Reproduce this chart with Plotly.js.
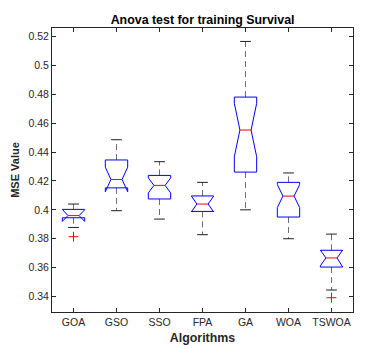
<!DOCTYPE html>
<html>
<head>
<meta charset="utf-8">
<script src="https://cdn.plot.ly/plotly-3.0.1.min.js"></script>
<style>html,body{margin:0;padding:0;background:#fff;}#chart{width:378px;height:349px;}</style>
</head>
<body>
<div id="chart"></div>
<script>
const categories = ['GOA', 'GSO', 'SSO', 'FPA', 'GA', 'WOA', 'TSWOA'];
const q1Values = [0.3945, 0.4152, 0.4075, 0.3989, 0.4261, 0.3950, 0.3604];
const medianValues = [0.3960, 0.4210, 0.4169, 0.4040, 0.4552, 0.4095, 0.3667];
const q3Values = [0.4003, 0.4345, 0.4238, 0.4096, 0.4780, 0.4190, 0.3720];
const lowerWhiskers = [0.3878, 0.3994, 0.3936, 0.3828, 0.4000, 0.3800, 0.3445];
const upperWhiskers = [0.4040, 0.4485, 0.4333, 0.4190, 0.5165, 0.4255, 0.3832];
const notchSpans = [0.0040, 0.0085, 0.0052, 0.0055, 0.0185, 0.0080, 0.0055];
const outlierCategory = ['GOA', 'TSWOA'];
const outlierValues = [0.3814, 0.3392];
const yTickValues = [0.34, 0.36, 0.38, 0.40, 0.42, 0.44, 0.46, 0.48, 0.50, 0.52];
const yTickLabels = ['0.34', '0.36', '0.38', '0.4', '0.42', '0.44', '0.46', '0.48', '0.5', '0.52'];

const pos = categories.map((c, i) => i);
const boxHalf = 0.26;
const notchHalf = 0.13;
const capHalf = 0.125;
const FONT = '"Liberation Sans", Arial, Helvetica, sans-serif';

// whiskers (vertical dashed)
const wX = [], wY = [];
pos.forEach((p, i) => {
  wX.push(p, p, null, p, p, null);
  wY.push(q3Values[i], upperWhiskers[i], null, q1Values[i], lowerWhiskers[i], null);
});
// caps
const cX = [], cY = [];
pos.forEach((p, i) => {
  cX.push(p - capHalf, p + capHalf, null, p - capHalf, p + capHalf, null);
  cY.push(upperWhiskers[i], upperWhiskers[i], null, lowerWhiskers[i], lowerWhiskers[i], null);
});
// notched box outlines
const bX = [], bY = [];
pos.forEach((p, i) => {
  const lo = medianValues[i] - notchSpans[i], hi = medianValues[i] + notchSpans[i];
  const x0 = p - boxHalf, x1 = p + boxHalf, m0 = p - notchHalf, m1 = p + notchHalf;
  bX.push(x0, x0, m0, x0, x0, x1, x1, m1, x1, x1, x0, null);
  bY.push(q1Values[i], lo, medianValues[i], hi, q3Values[i], q3Values[i], hi, medianValues[i], lo, q1Values[i], q1Values[i], null);
});
// medians
const mX = [], mY = [];
pos.forEach((p, i) => {
  mX.push(p - notchHalf, p + notchHalf, null);
  mY.push(medianValues[i], medianValues[i], null);
});

const traces = [
  {
    type: 'scatter', mode: 'lines', x: wX, y: wY, hoverinfo: 'skip',
    line: {color: 'rgb(110,110,110)', width: 1, dash: '6px,4px'}, showlegend: false
  },
  {
    type: 'scatter', mode: 'lines', x: cX, y: cY, hoverinfo: 'skip',
    line: {color: 'rgb(30,30,30)', width: 1}, showlegend: false
  },
  {
    type: 'scatter', mode: 'lines', x: bX, y: bY, hoverinfo: 'skip',
    line: {color: 'rgb(0,0,255)', width: 1}, showlegend: false
  },
  {
    type: 'scatter', mode: 'lines', x: mX, y: mY, hoverinfo: 'skip',
    line: {color: 'rgb(255,0,0)', width: 1}, showlegend: false
  },
  {
    type: 'scatter', mode: 'markers',
    x: outlierCategory.map(c => categories.indexOf(c)), y: outlierValues,
    marker: {symbol: 'cross-thin', size: 7, color: 'rgb(255,0,0)', line: {color: 'rgb(255,0,0)', width: 1}},
    showlegend: false
  }
];

const layout = {
  width: 378, height: 349,
  margin: {l: 52, r: 25, t: 28, b: 37},
  paper_bgcolor: '#fff', plot_bgcolor: '#fff',
  font: {family: FONT, size: 10.5, color: '#262626'},
  title: {text: '<b>Anova test for training Survival</b>', font: {family: FONT, size: 12.4, color: '#000'},
          x: 0.536, xanchor: 'center', yref: 'container', y: 0.943, yanchor: 'middle'},
  xaxis: {
    range: [-0.5, 6.5], tickvals: pos, ticktext: categories,
    showgrid: false, zeroline: false, showline: true, mirror: 'ticks',
    linecolor: '#262626', linewidth: 1, ticks: 'inside', ticklen: 4, tickcolor: '#262626',
    tickfont: {family: FONT, size: 10.5, color: '#262626'},
    title: {text: '<b>Algorithms</b>', font: {family: FONT, size: 12.4, color: '#262626'}, standoff: 6}
  },
  yaxis: {
    range: [0.3293, 0.5258], tickvals: yTickValues, ticktext: yTickLabels,
    showgrid: false, zeroline: false, showline: true, mirror: 'ticks',
    linecolor: '#262626', linewidth: 1, ticks: 'inside', ticklen: 4, tickcolor: '#262626',
    tickfont: {family: FONT, size: 10.5, color: '#262626'},
    title: {text: '<b>MSE Value</b>', font: {family: FONT, size: 11, color: '#262626'}, standoff: 6}
  }
};

Plotly.newPlot('chart', traces, layout, {staticPlot: true, displayModeBar: false});
</script>
</body>
</html>
